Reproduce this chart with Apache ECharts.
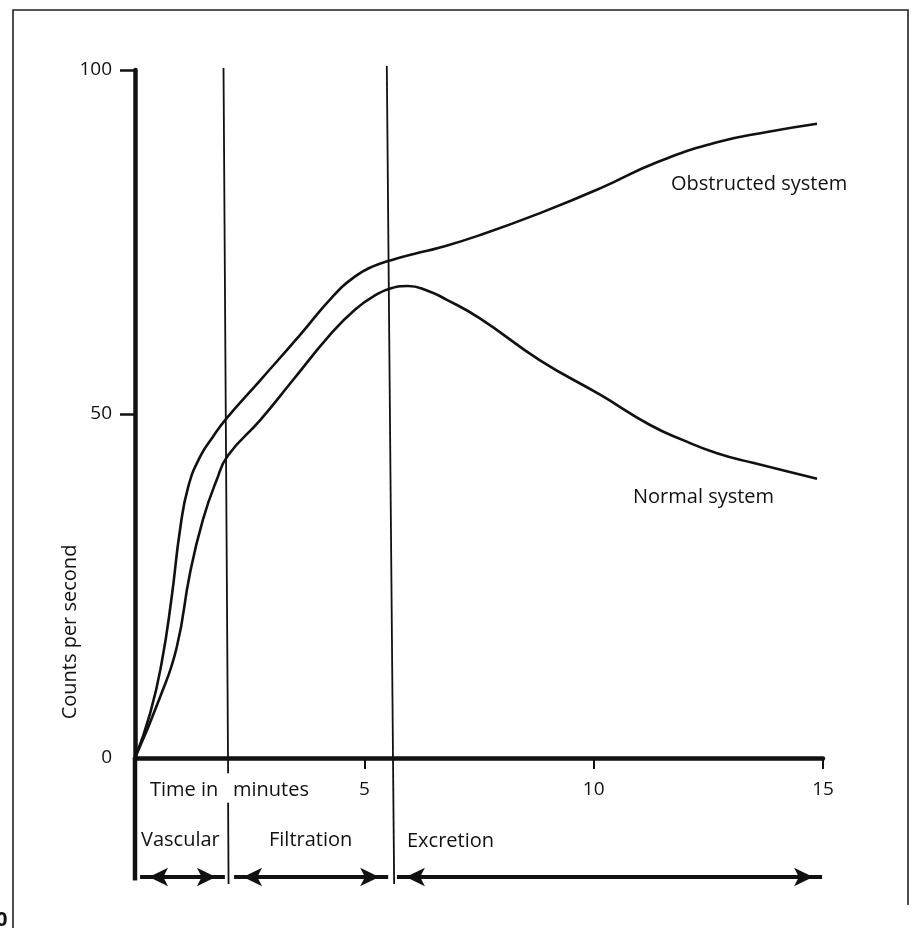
<!DOCTYPE html>
<html>
<head>
<meta charset="utf-8">
<script src="https://cdn.jsdelivr.net/npm/echarts@6/dist/echarts.min.js"></script>
<style>
  html, body { margin: 0; padding: 0; background: #ffffff; }
  #chart { width: 914px; height: 928px; }
</style>
</head>
<body>
<div id="chart"></div>
<script>
// Renogram: counts per second against time in minutes
const obstructedTime   = [0, 0.33, 0.58, 0.80, 0.98, 1.16, 1.42, 1.70, 2.00, 2.73, 3.60, 4.30, 4.80, 5.20, 5.60, 6.10, 6.65, 7.52, 8.83, 10.14, 11.38, 12.69, 13.78, 14.87];
const obstructedCounts = [0, 6.5, 13.8, 23.4, 33.1, 39.4, 43.8, 46.7, 49.4, 54.9, 61.5, 67.0, 70.0, 71.5, 72.4, 73.3, 74.2, 76.0, 79.2, 82.8, 86.6, 89.5, 91.0, 92.2];

const normalTime   = [0, 0.55, 0.91, 1.20, 1.48, 1.78, 2.03, 2.73, 3.44, 4.25, 4.80, 5.25, 5.60, 5.95, 6.35, 6.80, 7.52, 8.83, 10.14, 11.23, 11.95, 12.69, 13.47, 14.87];
const normalCounts = [0, 8.9, 16.1, 26.9, 34.6, 40.4, 44.0, 49.1, 54.9, 61.5, 65.2, 67.3, 68.3, 68.6, 68.0, 66.6, 63.9, 57.8, 52.8, 48.4, 46.2, 44.3, 42.9, 40.6];

const xTickValues  = [5, 10, 15];
const yTickValues  = [50, 100];
const yLabelValues = [0, 50, 100];

// Phases of the curve and the span of each arrow (minutes)
const phaseNames = ['Vascular', 'Filtration', 'Excretion'];
const phaseStart = [0.11, 2.16, 5.71];
const phaseEnd   = [1.96, 5.52, 14.98];

// Boundaries between phases (minutes); the hand-ruled lines lean a little
const boundaryTop    = [1.93, 5.49];
const boundaryBottom = [2.04, 5.65];

const FONT = '"Open Sans", "Liberation Sans", sans-serif';
const INK = '#111111';

const pairs = (xs, ys) => xs.map((x, i) => [x, ys[i]]);

// vertical extents below the time axis, in count units
const ARROW_LEVEL = -17.3;
const AXIS_FOOT = -17.8;

const boundarySeries = [
  {
    type: 'line', clip: false, symbol: 'none', silent: true,
    lineStyle: { color: INK, width: 1.8 },
    data: [
      [boundaryTop[0], 100.3],
      [boundaryBottom[0] - 0.01, -2.2],
      ['-', '-'],
      [boundaryBottom[0] - 0.01, -6.5],
      [boundaryBottom[0], -18.3]
    ]
  },
  {
    type: 'line', clip: false, symbol: 'none', silent: true,
    lineStyle: { color: INK, width: 1.8 },
    data: [
      [boundaryTop[1], 100.6],
      [boundaryBottom[1], -18.3]
    ]
  }
];

const arrowSeries = phaseNames.map((name, i) => ({
  name: name,
  type: 'line', clip: false, silent: true,
  symbol: 'arrow', symbolSize: [14, 19],
  showSymbol: true,
  itemStyle: { color: INK },
  lineStyle: { color: INK, width: 4 },
  data: [
    { value: [phaseStart[i], ARROW_LEVEL], symbolRotate: 90, symbolOffset: [9, 0] },
    { value: [phaseEnd[i], ARROW_LEVEL], symbolRotate: -90, symbolOffset: [-9, 0] }
  ]
}));

const chart = echarts.init(document.getElementById('chart'), null, { renderer: 'canvas' });

chart.setOption({
  animation: false,
  backgroundColor: '#ffffff',
  grid: { left: 135, top: 70, width: 688, height: 688, containLabel: false },
  xAxis: {
    type: 'value', min: 0, max: 15,
    axisLine: { show: true, lineStyle: { color: INK, width: 4.5 } },
    axisTick: { show: true, customValues: xTickValues, length: 11, lineStyle: { color: INK, width: 2 } },
    axisLabel: { show: true, customValues: xTickValues, margin: 22, fontSize: 19, fontFamily: FONT, color: INK },
    splitLine: { show: false }
  },
  yAxis: {
    type: 'value', min: 0, max: 100,
    axisLine: { show: true, lineStyle: { color: INK, width: 4.5 } },
    axisTick: { show: true, customValues: yTickValues, length: 15, lineStyle: { color: INK, width: 2.5 } },
    axisLabel: { show: true, customValues: yLabelValues, margin: 23, fontSize: 19, fontFamily: FONT, color: INK },
    splitLine: { show: false }
  },
  series: [
    {
      name: 'Obstructed system', type: 'line', smooth: 0.5, symbol: 'none',
      lineStyle: { color: INK, width: 2.6 },
      data: pairs(obstructedTime, obstructedCounts)
    },
    {
      name: 'Normal system', type: 'line', smooth: 0.5, symbol: 'none',
      lineStyle: { color: INK, width: 2.6 },
      data: pairs(normalTime, normalCounts)
    },
    {
      // count axis carried down past the time axis to open the phase scale
      type: 'line', clip: false, symbol: 'none', silent: true,
      lineStyle: { color: INK, width: 4.5 },
      data: [[0, 0], [0, AXIS_FOOT]]
    },
    ...boundarySeries,
    ...arrowSeries
  ],
  graphic: [
    {
      type: 'polyline', silent: true,
      shape: { points: [[13, 928], [13, 10], [908, 10], [908, 905]] },
      style: { stroke: '#222222', lineWidth: 1.6, fill: null }
    },
    { type: 'text', silent: true, x: -4, y: 920,
      style: { text: '0', font: 'bold 20px ' + FONT, fill: INK, verticalAlign: 'middle' } },
    { type: 'text', silent: true, x: 70, y: 632, rotation: Math.PI / 2,
      style: { text: 'Counts per second', font: '20px ' + FONT, fill: INK, align: 'center', verticalAlign: 'middle' } },
    { type: 'text', silent: true, x: 150, y: 790,
      style: { text: 'Time in', font: '20px ' + FONT, fill: INK, verticalAlign: 'middle' } },
    { type: 'text', silent: true, x: 233, y: 790,
      style: { text: 'minutes', font: '20px ' + FONT, fill: INK, verticalAlign: 'middle' } },
    { type: 'text', silent: true, x: 141, y: 840,
      style: { text: phaseNames[0], font: '20px ' + FONT, fill: INK, verticalAlign: 'middle' } },
    { type: 'text', silent: true, x: 269, y: 840,
      style: { text: phaseNames[1], font: '20px ' + FONT, fill: INK, verticalAlign: 'middle' } },
    { type: 'text', silent: true, x: 407, y: 841,
      style: { text: phaseNames[2], font: '20px ' + FONT, fill: INK, verticalAlign: 'middle' } },
    { type: 'text', silent: true, x: 671, y: 184,
      style: { text: 'Obstructed system', font: '20px ' + FONT, fill: INK, verticalAlign: 'middle' } },
    { type: 'text', silent: true, x: 633, y: 497,
      style: { text: 'Normal system', font: '20px ' + FONT, fill: INK, verticalAlign: 'middle' } }
  ]
});
</script>
</body>
</html>
